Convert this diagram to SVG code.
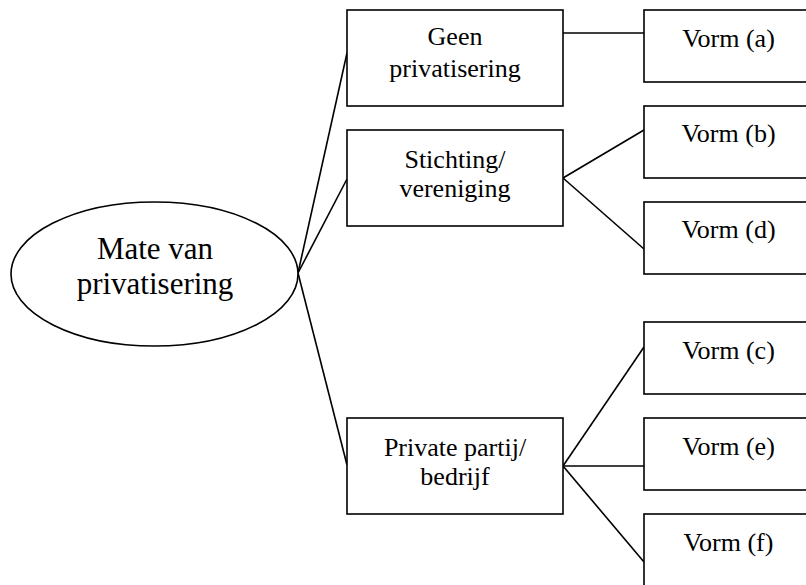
<svg xmlns="http://www.w3.org/2000/svg" width="806" height="585" viewBox="0 0 806 585">
<style>
.box{fill:#fff;stroke:#000;stroke-width:1.6}
.t{font-family:"Liberation Serif","Times New Roman",serif;font-size:26px;fill:#000;text-anchor:middle}
.big{font-size:31px}
.c line{stroke:#000;stroke-width:1.6}
</style>
<rect width="806" height="585" fill="#fff"/>
<g id="connectors" class="c">
<line x1="298" y1="273" x2="347" y2="53"/>
<line x1="298" y1="273" x2="347" y2="179"/>
<line x1="298" y1="273" x2="347" y2="465"/>
<line x1="563" y1="33" x2="644" y2="33"/>
<line x1="563" y1="178" x2="644" y2="130"/>
<line x1="563" y1="178" x2="644" y2="249"/>
<line x1="563" y1="466" x2="644" y2="347"/>
<line x1="563" y1="466" x2="644" y2="466"/>
<line x1="563" y1="466" x2="644" y2="562"/>
</g>
<g id="root">
<ellipse class="box" cx="154.5" cy="274" rx="143.5" ry="72"/>
<text class="t big" x="155" y="259">Mate van</text>
<text class="t big" x="155" y="294">privatisering</text>
</g>
<g id="geen">
<rect class="box" x="347" y="10" width="216" height="96"/>
<text class="t" x="455" y="45">Geen</text>
<text class="t" x="455" y="77">privatisering</text>
</g>
<g id="stichting">
<rect class="box" x="347" y="130" width="216" height="96"/>
<text class="t" x="455" y="168">Stichting/</text>
<text class="t" x="455" y="197">vereniging</text>
</g>
<g id="private">
<rect class="box" x="347" y="418" width="216" height="96"/>
<text class="t" x="455" y="456">Private partij/</text>
<text class="t" x="455" y="485">bedrijf</text>
</g>
<g id="vorm-a">
<rect class="box" x="644" y="10" width="170" height="72"/>
<text class="t" x="728.5" y="47">Vorm (a)</text>
</g>
<g id="vorm-b">
<rect class="box" x="644" y="106" width="170" height="72"/>
<text class="t" x="728.5" y="142">Vorm (b)</text>
</g>
<g id="vorm-d">
<rect class="box" x="644" y="202" width="170" height="72"/>
<text class="t" x="728.5" y="238">Vorm (d)</text>
</g>
<g id="vorm-c">
<rect class="box" x="644" y="322" width="170" height="72"/>
<text class="t" x="728.5" y="359">Vorm (c)</text>
</g>
<g id="vorm-e">
<rect class="box" x="644" y="418" width="170" height="72"/>
<text class="t" x="728.5" y="455">Vorm (e)</text>
</g>
<g id="vorm-f">
<rect class="box" x="644" y="514" width="170" height="80"/>
<text class="t" x="728.5" y="551">Vorm (f)</text>
</g>
</svg>
